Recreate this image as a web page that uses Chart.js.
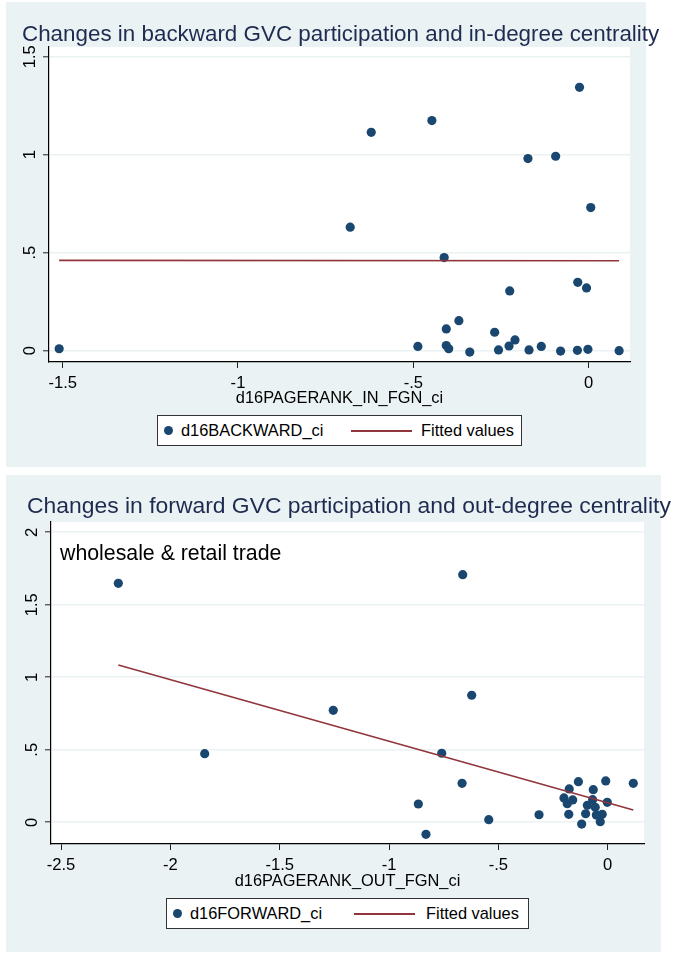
<!DOCTYPE html>
<html><head><meta charset="utf-8">
<script src="https://cdn.jsdelivr.net/npm/chart.js@4.4.0/dist/chart.umd.min.js"></script>
<style>
body{margin:0;background:#fff;width:675px;height:956px;position:relative;overflow:hidden;font-family:"Liberation Sans",Arial,sans-serif;}
.grey{position:absolute;background:#eaf2f3;}
.cv{position:absolute;left:0;}
.title{position:absolute;white-space:nowrap;font-size:22.4px;line-height:1;color:#1e2b50;}
.note{position:absolute;white-space:nowrap;font-size:21.3px;line-height:1;color:#000;}
.legend{position:absolute;background:#fff;border:1px solid #333;box-sizing:border-box;}
.legend span{position:absolute;top:0;white-space:nowrap;font-size:16.4px;color:#000;}
.legend .dot{position:absolute;width:9px;height:9px;border-radius:50%;background:#1a476f;}
.legend .ln{position:absolute;height:1.6px;background:#90353b;}
</style>
</head><body>
<div class="grey" style="left:6px;top:2px;width:640px;height:465px;"></div>
<div class="grey" style="left:6px;top:475px;width:655px;height:477px;"></div>
<canvas id="c1" class="cv" style="top:0px;" width="675" height="470"></canvas>
<canvas id="c2" class="cv" style="top:470px;" width="675" height="486"></canvas>

<div class="title" style="left:22px;top:23px;">Changes in backward GVC participation and in-degree centrality</div>
<div class="title" style="left:27px;top:494px;font-size:22.9px;">Changes in forward GVC participation and out-degree centrality</div>
<div class="note" style="left:60px;top:543px;">wholesale &amp; retail trade</div>

<div class="legend" style="left:157px;top:415px;width:365px;height:31px;">
  <div class="dot" style="left:6px;top:10px;"></div>
  <span style="left:23px;line-height:29px;">d16BACKWARD_ci</span>
  <div class="ln" style="left:193px;width:61px;top:14px;"></div>
  <span style="left:263px;line-height:29px;">Fitted values</span>
</div>
<div class="legend" style="left:166px;top:898px;width:363px;height:31px;">
  <div class="dot" style="left:6px;top:10px;"></div>
  <span style="left:23px;line-height:29px;">d16FORWARD_ci</span>
  <div class="ln" style="left:187px;width:61px;top:14px;"></div>
  <span style="left:259px;line-height:29px;">Fitted values</span>
</div>

<script>
// ---- Panel 1 data: backward GVC participation vs in-degree centrality ----
const inDegreeX = [-1.51,-0.68,-0.62,-0.447,-0.173,-0.094,-0.026,0.006,-0.412,-0.031,-0.006,-0.225,
  -0.487,-0.406,-0.370,-0.406,-0.399,-0.339,-0.268,-0.257,-0.227,-0.210,-0.170,-0.135,-0.080,-0.032,-0.002,0.087];
const backwardY = [0.01,0.63,1.114,1.174,0.98,0.992,1.344,0.73,0.475,0.349,0.32,0.305,
  0.022,0.111,0.153,0.026,0.01,-0.007,0.094,0.004,0.024,0.055,0.004,0.022,-0.002,0.002,0.007,0.0];
const fitInX = [-1.51, 0.087];
const fitInY = [0.461, 0.459];
const xTicks1 = [-1.5,-1,-0.5,0];
const yTicks1 = [0,0.5,1,1.5];

// ---- Panel 2 data: forward GVC participation vs out-degree centrality ----
const outDegreeX = [-2.238,-1.843,-1.255,-0.866,-0.831,-0.759,-0.666,-0.663,-0.622,-0.544,-0.314,0.117,
  -0.134,-0.009,-0.176,-0.066,-0.200,-0.160,-0.185,-0.069,-0.002,-0.093,-0.057,-0.178,-0.101,-0.052,-0.025,-0.034,-0.119];
const forwardY = [1.648,0.473,0.772,0.126,-0.083,0.476,0.269,1.708,0.876,0.018,0.052,0.269,
  0.280,0.285,0.230,0.225,0.168,0.154,0.128,0.156,0.138,0.117,0.103,0.055,0.059,0.050,0.055,0.004,-0.012];
const fitOutX = [-2.238, 0.117];
const fitOutY = [1.085, 0.085];
const xTicks2 = [-2.5,-2,-1.5,-1,-0.5,0];
const yTicks2 = [0,0.5,1,1.5,2];

const NAVY = '#1a476f', MAROON = '#90353b', GRID = '#eaf2f3';
Chart.defaults.font.family = "'Liberation Sans', Arial, sans-serif";
Chart.defaults.color = '#000';

function fmt(v){
  if (v === 0) return '0';
  let s = String(Math.abs(v));
  if (s.startsWith('0.')) s = s.slice(1);
  return (v < 0 ? '-' : '') + s;
}
function pts(xs, ys){ return xs.map((x,i)=>({x:x, y:ys[i]})); }

const whiteArea = {
  id:'whiteArea',
  beforeDraw(chart){
    const a = chart.chartArea, ctx = chart.ctx;
    ctx.save(); ctx.fillStyle = '#fff';
    ctx.fillRect(a.left, a.top, a.right - a.left, a.bottom - a.top);
    ctx.restore();
  }
};

function makeChart(id, cfg){
  return new Chart(document.getElementById(id), {
    type:'scatter',
    data:{ datasets:[
      { type:'line', label:'Fitted values', data:pts(cfg.fx, cfg.fy), borderColor:MAROON, borderWidth:1.6,
        pointRadius:0, fill:false, tension:0, order:1 },
      { label:cfg.label, data:pts(cfg.x, cfg.y), backgroundColor:NAVY, borderColor:NAVY, borderWidth:0,
        pointRadius:4.6, pointHoverRadius:4.6, order:2 }
    ]},
    options:{
      responsive:false, animation:false, events:[],
      layout:{ padding:{ left:6, right:cfg.padR, top:cfg.padT, bottom:0 } },
      plugins:{ legend:{display:false}, tooltip:{enabled:false}, title:{display:false} },
      scales:{
        x:{ type:'linear', min:cfg.xmin, max:cfg.xmax,
          afterBuildTicks:s=>{ s.ticks = cfg.xt.map(v=>({value:v})); },
          afterFit:s=>{ s.height = cfg.xH; },
          grid:{ drawOnChartArea:false, drawTicks:true, tickLength:6, tickColor:'#222', tickWidth:1 },
          border:{ display:true, color:'#000', width:1.2 },
          ticks:{ callback:v=>fmt(v), font:{size:16.6}, padding:5, maxRotation:0, minRotation:0, color:'#000' },
          title:{ display:true, text:cfg.xTitle, font:{size:16.4}, color:'#000', padding:{top:0,bottom:cfg.xTitlePad} }
        },
        y:{ type:'linear', min:cfg.ymin, max:cfg.ymax,
          afterBuildTicks:s=>{ s.ticks = cfg.yt.map(v=>({value:v})); },
          afterFit:s=>{ s.width = cfg.yW; },
          grid:{ color:GRID, lineWidth:1.6, drawTicks:true, tickLength:6, tickColor:'#222', tickWidth:1 },
          border:{ display:true, color:'#000', width:1.2 },
          ticks:{ callback:v=>fmt(v), font:{size:16.6}, padding:1.5, minRotation:90, maxRotation:90, crossAlign:'center', color:'#000' }
        }
      }
    },
    plugins:[whiteArea]
  });
}

makeChart('c1', { x:inDegreeX, y:backwardY, fx:fitInX, fy:fitInY, label:'d16BACKWARD_ci',
  xmin:-1.539, xmax:0.118, ymin:-0.0577, ymax:1.5495, xt:xTicks1, yt:yTicks1,
  padR:45, padT:47, xH:108, yW:43, xTitle:'d16PAGERANK_IN_FGN_ci', xTitlePad:62 });

makeChart('c2', { x:outDegreeX, y:forwardY, fx:fitOutX, fy:fitOutY, label:'d16FORWARD_ci',
  xmin:-2.5458, xmax:0.166, ymin:-0.1497, ymax:2.071, xt:xTicks2, yt:yTicks2,
  padR:31, padT:52, xH:112, yW:45, xTitle:'d16PAGERANK_OUT_FGN_ci', xTitlePad:65 });
</script>
</body></html>
